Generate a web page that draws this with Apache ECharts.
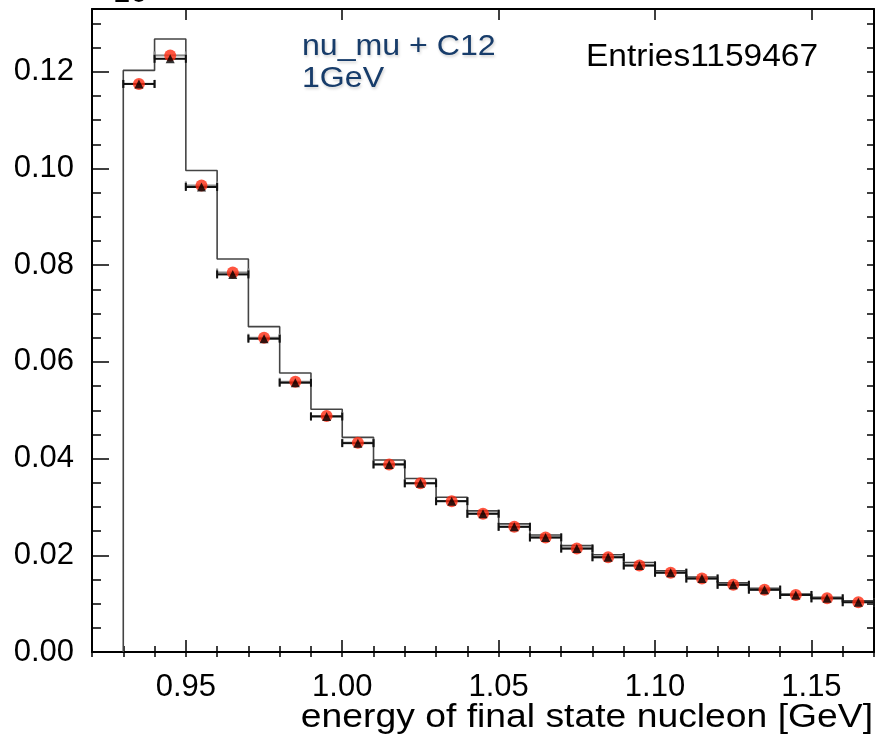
<!DOCTYPE html>
<html><head><meta charset="utf-8">
<script src="https://cdn.jsdelivr.net/npm/echarts@6/dist/echarts.min.js"></script>
<style>html,body{margin:0;padding:0;background:#fff}#c{width:875px;height:741px}</style>
</head><body><div id="c"></div>
<script>
// ---- data ----
const binCenters = [0.935,0.945,0.955,0.965,0.975,0.985,0.995,1.005,1.015,1.025,1.035,1.045,
                    1.055,1.065,1.075,1.085,1.095,1.105,1.115,1.125,1.135,1.145,1.155,1.165];
const binWidth = 0.01;
const histValues = [0.1203,0.1268,0.0996,0.0813,0.0673,0.0577,0.0502,0.0444,0.0397,0.0359,0.0320,0.0292,
                    0.0265,0.0242,0.0220,0.0201,0.0185,0.0168,0.0155,0.0143,0.0132,0.0120,0.0113,0.0106];
const circleValues = [0.1175,0.1234,0.0965,0.0785,0.0650,0.0559,0.0488,0.0433,0.0388,0.0349,0.0312,0.0286,
                      0.0259,0.0237,0.0214,0.0196,0.0179,0.0164,0.0152,0.0139,0.0129,0.0118,0.0111,0.0103];
const triangleValues = [0.1175,0.1227,0.0962,0.0781,0.0648,0.0557,0.0487,0.0432,0.0388,0.0349,0.0312,0.0286,
                        0.0259,0.0237,0.0214,0.0196,0.0179,0.0164,0.0152,0.0139,0.0129,0.0118,0.0111,0.0103];
const xTickLabels = [0.95,1.00,1.05,1.10,1.15];
const yTickLabels = [0.00,0.02,0.04,0.06,0.08,0.10,0.12];
const xRange = [0.92,1.17];
const yRange = [0,0.133];
const xTitle = 'energy of final state nucleon [GeV]';
const entriesText = 'Entries1159467';
const noteLines = ['nu_mu + C12','1GeV'];

// ---- derived ----
const histPath = [[binCenters[0]-binWidth/2, 0]];
binCenters.forEach((c,i)=>{
  histPath.push([c-binWidth/2, histValues[i]]);
  histPath.push([c+binWidth/2, histValues[i]]);
});
const errCircle = binCenters.map((c,i)=>[c-binWidth/2, c+binWidth/2, circleValues[i]]);
const errTri = binCenters.map((c,i)=>[c-binWidth/2, c+binWidth/2, triangleValues[i]]);

const FONT = '"Liberation Sans", Arial, Helvetica, sans-serif';

function errRenderer(color){
  return function(params, api){
    const lo = api.coord([api.value(0), api.value(2)]);
    const hi = api.coord([api.value(1), api.value(2)]);
    const cap = 4;
    const st = {stroke:color, lineWidth:2};
    return {type:'group', children:[
      {type:'line', shape:{x1:lo[0],y1:lo[1],x2:hi[0],y2:hi[1]}, style:st},
      {type:'line', shape:{x1:lo[0],y1:lo[1]-cap,x2:lo[0],y2:lo[1]+cap}, style:st},
      {type:'line', shape:{x1:hi[0],y1:hi[1]-cap,x2:hi[0],y2:hi[1]+cap}, style:st}
    ]};
  };
}

const baseX = {type:'value', min:xRange[0], max:xRange[1], splitLine:{show:false}};
const baseY = {type:'value', min:yRange[0], max:yRange[1], splitLine:{show:false}};
const frameLine = {show:true, onZero:false, lineStyle:{color:'#000', width:2}};

const chart = echarts.init(document.getElementById('c'), null, {renderer:'canvas'});
chart.setOption({
  animation:false,
  backgroundColor:'#fff',
  grid:{left:92, right:1, top:9, bottom:89, containLabel:false},
  xAxis:[
    Object.assign({}, baseX, {position:'bottom', axisLine:frameLine,
      axisTick:{show:true, inside:true, length:12, customValues:xTickLabels, lineStyle:{color:'#000',width:1.5}},
      axisLabel:{show:true, customValues:xTickLabels, formatter:v=>v.toFixed(2), margin:20,
        color:'#000', fontSize:31, fontFamily:FONT}}),
    Object.assign({}, baseX, {position:'bottom', interval:0.01, axisLine:{show:false},
      axisTick:{show:true, inside:true, length:6, lineStyle:{color:'#000',width:1.5}},
      axisLabel:{show:false}}),
    Object.assign({}, baseX, {position:'top', axisLine:frameLine,
      axisTick:{show:true, inside:true, length:11, customValues:xTickLabels, lineStyle:{color:'#000',width:1.5}},
      axisLabel:{show:false}}),
    Object.assign({}, baseX, {position:'top', interval:0.01, axisLine:{show:false},
      axisTick:{show:true, inside:true, length:5, lineStyle:{color:'#000',width:1.5}},
      axisLabel:{show:false}})
  ],
  yAxis:[
    Object.assign({}, baseY, {position:'left', axisLine:frameLine,
      axisTick:{show:true, inside:true, length:17, customValues:yTickLabels, lineStyle:{color:'#000',width:1.5}},
      axisLabel:{show:true, customValues:yTickLabels, formatter:v=>v.toFixed(2), margin:18,
        color:'#000', fontSize:31, fontFamily:FONT}}),
    Object.assign({}, baseY, {position:'left', interval:0.005, axisLine:{show:false},
      axisTick:{show:true, inside:true, length:9, lineStyle:{color:'#000',width:1.5}},
      axisLabel:{show:false}}),
    Object.assign({}, baseY, {position:'right', interval:0.005, axisLine:frameLine,
      axisTick:{show:true, inside:true, length:7, lineStyle:{color:'#000',width:1.5}},
      axisLabel:{show:false}})
  ],
  series:[
    {type:'line', name:'hist', data:histPath, xAxisIndex:0, yAxisIndex:0, symbol:'none',
     lineStyle:{color:'#444', width:1.6}, z:2, clip:true},
    {type:'custom', name:'errCircle', data:errCircle, encode:{x:[0,1], y:2},
     renderItem:errRenderer('#8a8a8a'), z:3},
    {type:'custom', name:'errTri', data:errTri, encode:{x:[0,1], y:2},
     renderItem:errRenderer('#111'), z:4},
    {type:'scatter', name:'circle', data:binCenters.map((c,i)=>[c,circleValues[i]]),
     symbol:'circle', symbolSize:12, itemStyle:{color:'#ff2a10'}, z:5},
    {type:'scatter', name:'triangle', data:binCenters.map((c,i)=>[c,triangleValues[i]]),
     symbol:'triangle', symbolSize:9, itemStyle:{color:'#000'}, z:6}
  ],
  graphic:[
    {type:'text', left:95, top:-22, style:{text:'×10', fill:'#000', font:'31px '+FONT}},
    {type:'text', x:302, y:47, scaleX:1.07, style:{text:noteLines[0], fill:'#173c6a', font:'30px '+FONT,
      verticalAlign:'middle', textShadowColor:'rgba(0,0,0,0.18)', textShadowBlur:3, textShadowOffsetX:1, textShadowOffsetY:2}},
    {type:'text', x:302, y:79, scaleX:1.07, style:{text:noteLines[1], fill:'#173c6a', font:'30px '+FONT,
      verticalAlign:'middle', textShadowColor:'rgba(0,0,0,0.18)', textShadowBlur:3, textShadowOffsetX:1, textShadowOffsetY:2}},
    {type:'text', x:586, y:57, scaleX:1.08, style:{text:entriesText, fill:'#000', font:'31px '+FONT, verticalAlign:'middle'}},
    {type:'text', x:873, y:718, scaleX:1.13, style:{text:xTitle, fill:'#000', font:'33px '+FONT, align:'right', verticalAlign:'middle'}}
  ]
});
</script></body></html>
